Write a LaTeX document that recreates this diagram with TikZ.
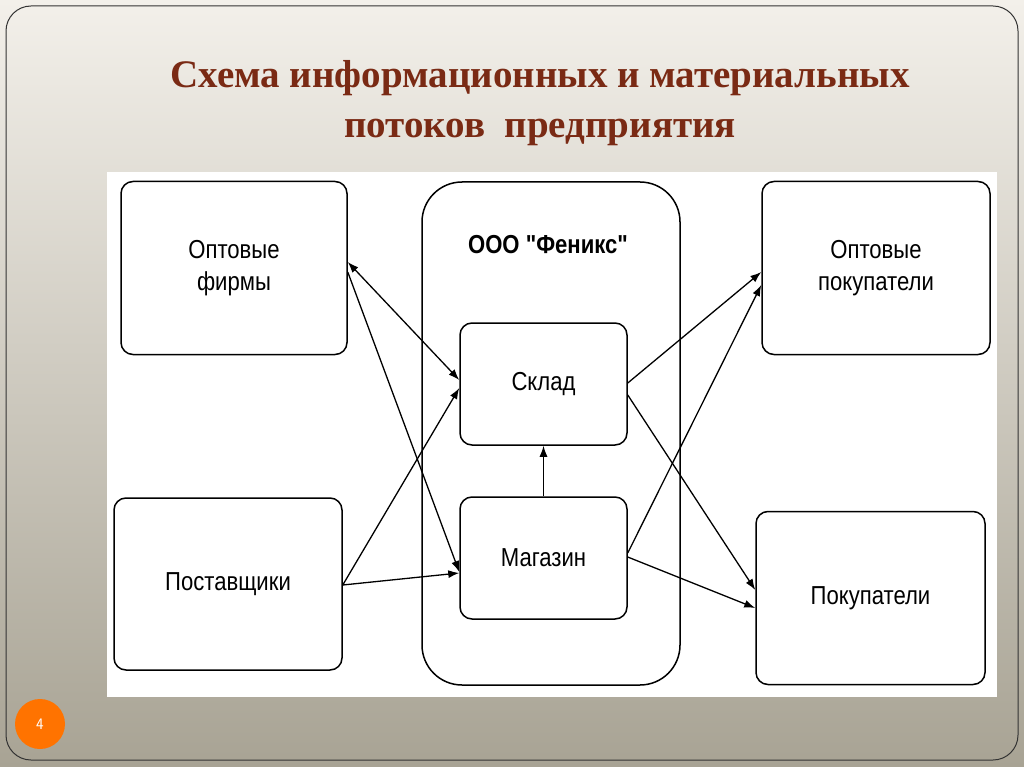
\documentclass[tikz,border=0pt]{standalone}
\usepackage{fontspec}
\setmainfont{Liberation Serif}
\newfontfamily\boxfont[FakeStretch=0.85]{Liberation Sans}
\usetikzlibrary{arrows.meta}
\definecolor{bgtop}{HTML}{F3F0EA}
\definecolor{bgbot}{HTML}{A8A394}
\definecolor{titlec}{HTML}{7A2A14}
\begin{document}
\begin{tikzpicture}[x=1pt,y=-1pt,
  box/.style={draw=black,line width=1.5pt,rounded corners=12pt,fill=white},
  lbl/.style={font=\boxfont\fontsize{26}{32}\selectfont,align=center},
  arr/.style={line width=1.3pt,-{Latex[length=11pt,width=8pt]}}]
\useasboundingbox (0,0) rectangle (1024,767);
\shade[top color=bgtop, bottom color=bgbot] (0,0) rectangle (1024,767);
\draw[rounded corners=25pt,line width=1pt,draw=gray!40!black] (6,6) rectangle (1018,760);
\fill[white] (107,172) rectangle (997,697);
\node[text=titlec,font=\bfseries\fontsize{39}{50}\selectfont,align=center] (title) at (540,103) {Схема информационных и материальных\\потоков\ \ предприятия};
\draw[box,rounded corners=40pt] (422,182) rectangle (680,685);
\node[font=\boxfont\bfseries\fontsize{26}{30}\selectfont] (hdr) at (548,245) {ООО "Феникс"};
\node[box,minimum width=226pt,minimum height=173pt,lbl] (of) at (234,268) {Оптовые\\фирмы};
\node[box,minimum width=228pt,minimum height=172pt,lbl] (ps) at (228,584) {Поставщики};
\node[box,minimum width=167pt,minimum height=122pt,lbl] (sk) at (543.5,384) {Склад};
\node[box,minimum width=167pt,minimum height=122pt,lbl] (mg) at (543.5,558) {Магазин};
\node[box,minimum width=228pt,minimum height=173pt,lbl] (op) at (876,268) {Оптовые\\покупатели};
\node[box,minimum width=229pt,minimum height=173pt,lbl] (pk) at (870.5,598) {Покупатели};
\draw[arr,{Latex[length=11pt,width=8pt]}-{Latex[length=11pt,width=8pt]}] (of.east|-0,262) -- (sk.west|-0,380);
\draw[arr] (of.east|-0,272) -- (mg.west|-0,572);
\draw[arr] (ps.east|-0,585) -- (sk.west|-0,388);
\draw[arr] (ps.east|-0,585) -- (mg.west|-0,573);
\draw[arr] (mg.north) -- (sk.south);
\draw[arr] (sk.east|-0,383) -- (op.west|-0,272);
\draw[arr] (sk.east|-0,395) -- (pk.west|-0,590);
\draw[arr] (mg.east|-0,553) -- (op.west|-0,285);
\draw[arr] (mg.east|-0,557) -- (pk.west|-0,608);
\node[circle,fill=orange!90!red,minimum size=50pt,text=white,font=\sffamily\fontsize{16}{18}\selectfont] (pg) at (40,724) {4};
\end{tikzpicture}
\end{document}
